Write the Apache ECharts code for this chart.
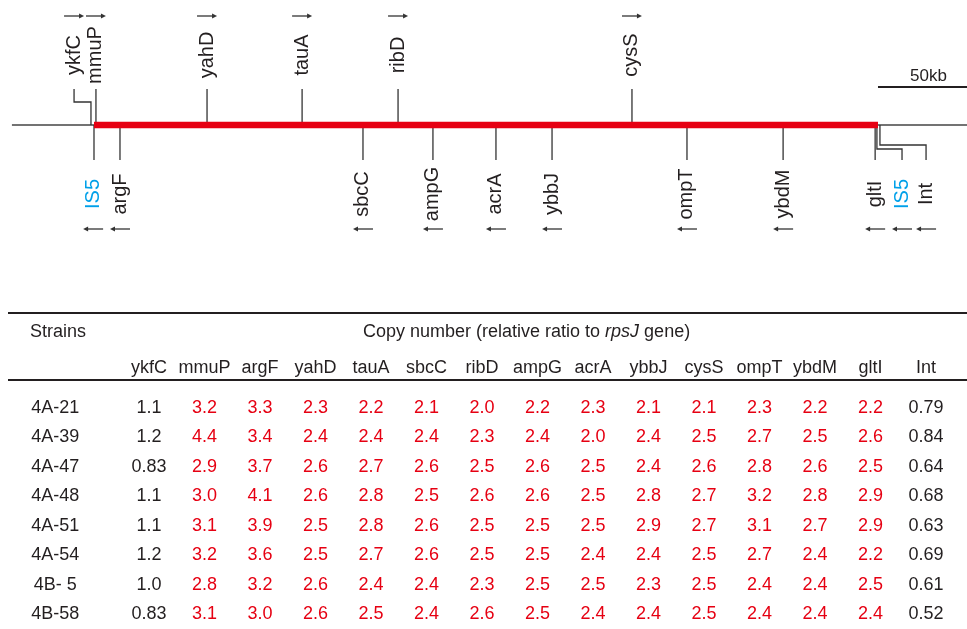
<!DOCTYPE html>
<html><head><meta charset="utf-8">
<script src="https://cdn.jsdelivr.net/npm/echarts@6/dist/echarts.min.js"></script>
<style>html,body{margin:0;padding:0;background:#fff}#c{width:967px;height:629px}</style>
</head><body><div id="c"></div>
<script>
// ---------- gene map data (positions in kb from the left IS5) ----------
const mapGenes    = ['ykfC','mmuP','yahD','tauA','ribD','cysS','IS5','argF','sbcC','ampG','acrA','ybbJ','ompT','ybdM','gltI','IS5','Int'];
const genePosKb   = [-1.7, 1.1, 63.5, 116.9, 170.8, 302.2, 0.0, 14.6, 151.1, 190.4, 225.8, 257.3, 333.1, 387.1, 438.8, 439.8, 441.5];
const labelPosKb  = [-11.2, 1.1, 63.5, 116.9, 170.8, 302.2, -0.5, 14.6, 151.1, 190.4, 225.8, 257.3, 333.1, 387.1, 438.8, 453.9, 467.4];
const geneStrand  = [1, 1, 1, 1, 1, 1, -1, -1, -1, -1, -1, -1, -1, -1, -1, -1, -1]; // 1 forward (above), -1 reverse (below)
const amplifiedKb = [0.0, 440.4];
const chromosomeKb = [-46.1, 490.4];
const scaleBarKb  = 50;
const scaleLabel  = '50kb';

// ---------- table data ----------
const strains = ['4A-21','4A-39','4A-47','4A-48','4A-51','4A-54','4B- 5','4B-58'];
const tableGenes = ['ykfC','mmuP','argF','yahD','tauA','sbcC','ribD','ampG','acrA','ybbJ','cysS','ompT','ybdM','gltI','Int'];
const inAmplicon = [false,true,true,true,true,true,true,true,true,true,true,true,true,true,false];
const v4A21 = [1.1, 3.2, 3.3, 2.3, 2.2, 2.1, 2.0, 2.2, 2.3, 2.1, 2.1, 2.3, 2.2, 2.2, 0.79];
const v4A39 = [1.2, 4.4, 3.4, 2.4, 2.4, 2.4, 2.3, 2.4, 2.0, 2.4, 2.5, 2.7, 2.5, 2.6, 0.84];
const v4A47 = [0.83, 2.9, 3.7, 2.6, 2.7, 2.6, 2.5, 2.6, 2.5, 2.4, 2.6, 2.8, 2.6, 2.5, 0.64];
const v4A48 = [1.1, 3.0, 4.1, 2.6, 2.8, 2.5, 2.6, 2.6, 2.5, 2.8, 2.7, 3.2, 2.8, 2.9, 0.68];
const v4A51 = [1.1, 3.1, 3.9, 2.5, 2.8, 2.6, 2.5, 2.5, 2.5, 2.9, 2.7, 3.1, 2.7, 2.9, 0.63];
const v4A54 = [1.2, 3.2, 3.6, 2.5, 2.7, 2.6, 2.5, 2.5, 2.4, 2.4, 2.5, 2.7, 2.4, 2.2, 0.69];
const v4B5  = [1.0, 2.8, 3.2, 2.6, 2.4, 2.4, 2.3, 2.5, 2.5, 2.3, 2.5, 2.4, 2.4, 2.5, 0.61];
const v4B58 = [0.83, 3.1, 3.0, 2.6, 2.5, 2.4, 2.6, 2.5, 2.4, 2.4, 2.5, 2.4, 2.4, 2.4, 0.52];
const tableRows = [v4A21, v4A39, v4A47, v4A48, v4A51, v4A54, v4B5, v4B58];
const headerStrains = 'Strains';
const headerCopy = ['Copy number (relative ratio to ', 'rpsJ', ' gene)'];

// ---------- styles ----------
const FONT = '"Liberation Sans", Arial, Helvetica, sans-serif';
const INK = '#231f20';
const RED = '#e60012';
const BLUE = '#00a0e9';
const LINE = '#333333';
const CHROM_Y = 125;
const elbowDrop = {0: -23, 15: 24, 16: 20};

const chart = echarts.init(document.getElementById('c'), null, {renderer: 'canvas'});

function fmt(v) { return v < 1 ? v.toFixed(2) : v.toFixed(1); }

const tableData = [];
tableRows.forEach((row, r) => {
  row.forEach((v, g) => {
    tableData.push({
      value: [g, r, v],
      label: {color: inAmplicon[g] ? RED : INK}
    });
  });
});

function arrow(x, y, dir) {
  const half = 10, tip = x + dir * half;
  return [
    {type: 'line', shape: {x1: x - dir * half, y1: y, x2: tip - dir * 3, y2: y}, style: {stroke: LINE, lineWidth: 1.3}},
    {type: 'polygon', shape: {points: [[tip, y], [tip - dir * 5, y - 2.4], [tip - dir * 5, y + 2.4]]}, style: {fill: LINE}}
  ];
}

function renderGene(params, api) {
  const i = params.dataIndex;
  const pos = api.value(0), lab = api.value(1), strand = api.value(2);
  const b = api.coord([pos, CHROM_Y]);
  const l = api.coord([lab, CHROM_Y]);
  const px = b[0], lx = l[0], by = b[1];
  const children = [];
  let pts;
  if (strand === 1) {
    if (elbowDrop[i] !== undefined) {
      const ey = by + elbowDrop[i];
      pts = [[lx, by - 36], [lx, ey], [px, ey], [px, by]];
    } else pts = [[px, by - 36], [px, by]];
  } else {
    if (elbowDrop[i] !== undefined) {
      const ey = by + elbowDrop[i];
      pts = [[px, by], [px, ey], [lx, ey], [lx, by + 35]];
    } else pts = [[px, by], [px, by + 35]];
  }
  children.push({type: 'polyline', shape: {points: pts}, style: {stroke: LINE, lineWidth: 1.3, fill: null}});
  const name = mapGenes[i];
  children.push({
    type: 'text', x: lx, y: strand === 1 ? by - 70 : by + 69, rotation: Math.PI / 2,
    style: {text: name, fontSize: 20, fontFamily: FONT, fill: name === 'IS5' ? BLUE : INK, align: 'center', verticalAlign: 'middle'}
  });
  arrow(lx, strand === 1 ? by - 109 : by + 104, strand).forEach(c => children.push(c));
  return {type: 'group', children};
}

function renderScale(params, api) {
  const a = api.coord([api.value(0), 87]);
  const e = api.coord([api.value(1), 87]);
  return {type: 'group', children: [
    {type: 'line', shape: {x1: a[0], y1: a[1], x2: e[0], y2: e[1]}, style: {stroke: INK, lineWidth: 2}},
    {type: 'text', x: (a[0] + e[0]) / 2 + 6, y: a[1] - 11, style: {text: scaleLabel, fontSize: 17, fontFamily: FONT, fill: INK, align: 'center', verticalAlign: 'middle'}}
  ]};
}

const option = {
  animation: false,
  backgroundColor: '#fff',
  textStyle: {fontFamily: FONT},
  grid: [
    {left: 0, right: 0, top: 0, height: 250},
    {left: 121.25, width: 832.5, top: 393.3, height: 235.4}
  ],
  xAxis: [
    {gridIndex: 0, type: 'value', min: -52.8, max: 490.4, show: false},
    {gridIndex: 1, type: 'category', data: tableGenes, position: 'top',
     axisLine: {show: false}, axisTick: {show: false}, splitLine: {show: false},
     axisLabel: {fontSize: 18, color: INK, fontFamily: FONT, margin: 25.3, verticalAlign: 'middle', interval: 0}}
  ],
  yAxis: [
    {gridIndex: 0, type: 'value', min: 0, max: 250, inverse: true, show: false},
    {gridIndex: 1, type: 'category', data: strains, inverse: true,
     axisLine: {show: false}, axisTick: {show: false}, splitLine: {show: false},
     axisLabel: {fontSize: 18, color: INK, fontFamily: FONT, margin: 66, align: 'center', interval: 0}}
  ],
  graphic: [
    {type: 'rect', shape: {x: 8, y: 312, width: 959, height: 2}, style: {fill: INK}},
    {type: 'rect', shape: {x: 8, y: 379, width: 959, height: 2}, style: {fill: INK}},
    {type: 'text', x: 30, y: 332, style: {text: headerStrains, fontSize: 18, fontFamily: FONT, fill: INK, align: 'left', verticalAlign: 'middle'}},
    {type: 'text', x: 363, y: 332, style: {
      text: '{n|' + headerCopy[0] + '}{i|' + headerCopy[1] + '}{n|' + headerCopy[2] + '}',
      align: 'left', verticalAlign: 'middle',
      rich: {
        n: {fontSize: 18, fontFamily: FONT, fill: INK, color: INK},
        i: {fontSize: 18, fontFamily: FONT, fontStyle: 'italic', fill: INK, color: INK}
      }
    }}
  ],
  series: [
    {type: 'line', xAxisIndex: 0, yAxisIndex: 0, symbol: 'none', silent: true,
     data: [[chromosomeKb[0], CHROM_Y], [chromosomeKb[1], CHROM_Y]],
     lineStyle: {color: '#444444', width: 1.3}, z: 1},
    {type: 'line', xAxisIndex: 0, yAxisIndex: 0, symbol: 'none', silent: true,
     data: [[amplifiedKb[0], CHROM_Y], [amplifiedKb[1], CHROM_Y]],
     lineStyle: {color: RED, width: 6.5, cap: 'butt'}, z: 3},
    {type: 'custom', xAxisIndex: 0, yAxisIndex: 0, renderItem: renderGene, silent: true, z: 2,
     data: mapGenes.map((g, i) => [genePosKb[i], labelPosKb[i], geneStrand[i]])},
    {type: 'custom', xAxisIndex: 0, yAxisIndex: 0, renderItem: renderScale, silent: true,
     data: [[amplifiedKb[1], amplifiedKb[1] + scaleBarKb]]},
    {type: 'scatter', xAxisIndex: 1, yAxisIndex: 1, symbolSize: 1, silent: true,
     itemStyle: {color: 'rgba(0,0,0,0)', opacity: 1},
     label: {show: true, position: 'inside', fontSize: 18, fontFamily: FONT,
             formatter: p => fmt(p.value[2])},
     data: tableData}
  ]
};
chart.setOption(option);
</script></body></html>
